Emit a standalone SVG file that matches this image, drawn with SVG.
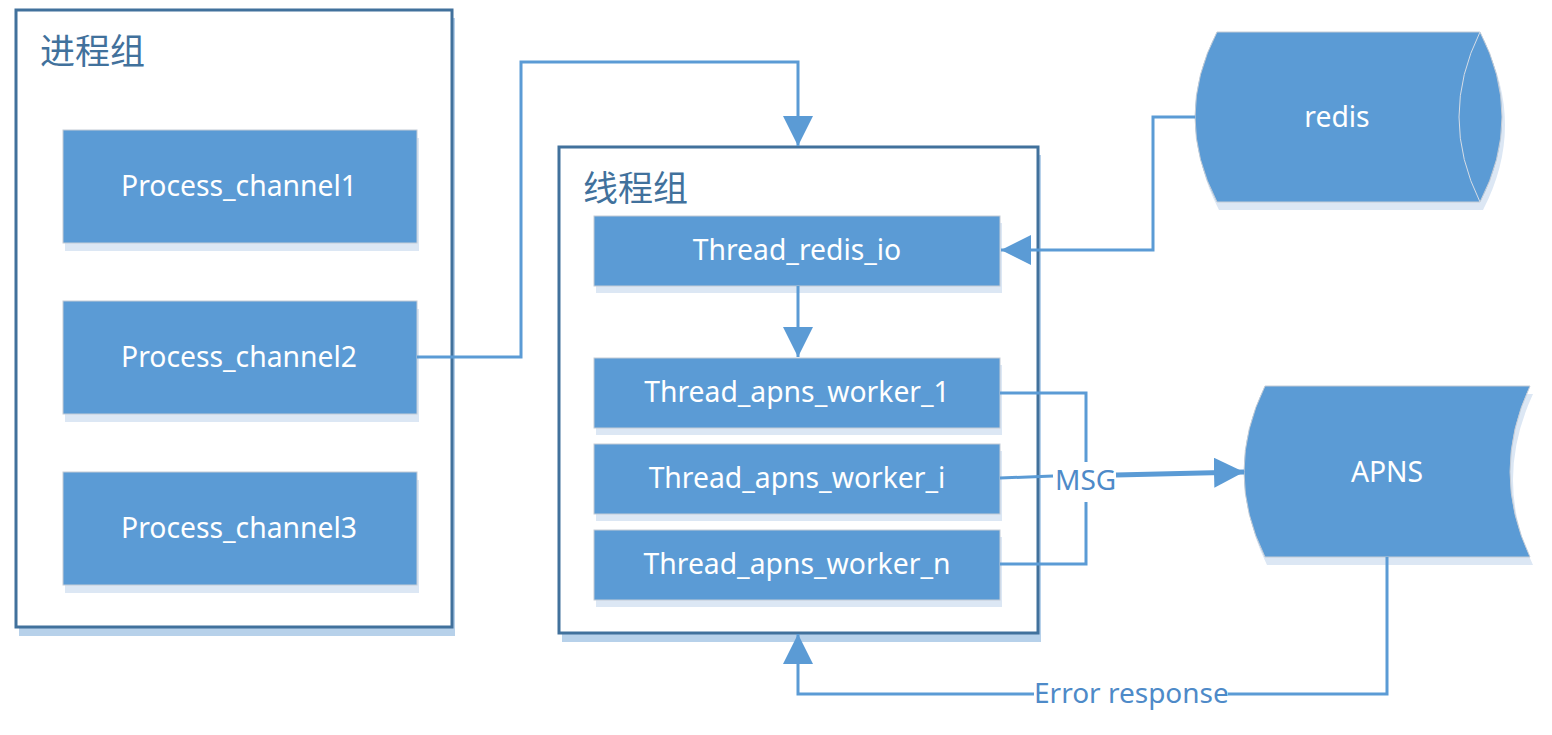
<svg xmlns="http://www.w3.org/2000/svg" width="1552" height="735" viewBox="0 0 1552 735">
<style>
  .frame { fill: #ffffff; stroke: #41719c; stroke-width: 3; }
  .frameShadow { fill: #b7d1ea; }
  .box { fill: #5b9bd5; stroke: #c4ccd6; stroke-width: 1; }
  .boxShadow { fill: #dce7f4; }
  .label { font-family: "Noto Sans", "Open Sans", "Liberation Sans", sans-serif; font-size: 28.3px; fill: #ffffff; text-anchor: middle; }
  .title { font-family: "Noto Sans CJK SC", "Noto Sans", sans-serif; font-size: 35px; fill: #41719c; }
  .conn { fill: none; stroke: #5b9bd5; stroke-width: 3; }
  .thick { stroke-width: 5; }
  .connText { font-family: "Noto Sans", "Open Sans", "Liberation Sans", sans-serif; font-size: 28px; fill: #4e8ac8; }
</style>
<defs>
  <marker id="arrow" markerUnits="userSpaceOnUse" markerWidth="30" markerHeight="30" viewBox="0 0 28 28" refX="28" refY="14" orient="auto">
    <path d="M0,0 L28,14 L0,28 Z" fill="#5b9bd5"/>
  </marker>
</defs>
<rect x="0" y="0" width="1552" height="735" fill="#ffffff"/>

<g id="process-group">
  <rect class="frameShadow" x="19" y="18" width="436" height="618"/>
  <rect class="frame" x="16" y="10" width="436" height="617"/>
  <text class="title" x="40" y="64">进程组</text>
</g>
<g id="process-channel1">
  <rect class="boxShadow" x="65" y="138" width="354" height="113"/>
  <rect class="box" x="63" y="130" width="354" height="113"/>
  <text class="label" x="239" y="196">Process_channel1</text>
</g>
<g id="process-channel2">
  <rect class="boxShadow" x="65" y="309" width="354" height="113"/>
  <rect class="box" x="63" y="301" width="354" height="113"/>
  <text class="label" x="239" y="367">Process_channel2</text>
</g>
<g id="process-channel3">
  <rect class="boxShadow" x="65" y="480" width="354" height="113"/>
  <rect class="box" x="63" y="472" width="354" height="113"/>
  <text class="label" x="239" y="538">Process_channel3</text>
</g>

<g id="thread-group">
  <rect class="frameShadow" x="562" y="155" width="479" height="487"/>
  <rect class="frame" x="559" y="147" width="479" height="486"/>
  <text class="title" x="583" y="201">线程组</text>
</g>
<g id="thread-redis-io">
  <rect class="boxShadow" x="596" y="223" width="406" height="70"/>
  <rect class="box" x="594" y="216" width="406" height="70"/>
  <text class="label" x="797" y="260">Thread_redis_io</text>
</g>
<g id="thread-apns-worker-1">
  <rect class="boxShadow" x="596" y="365" width="406" height="70"/>
  <rect class="box" x="594" y="358" width="406" height="70"/>
  <text class="label" x="797" y="402">Thread_apns_worker_1</text>
</g>
<g id="thread-apns-worker-i">
  <rect class="boxShadow" x="596" y="451" width="406" height="70"/>
  <rect class="box" x="594" y="444" width="406" height="70"/>
  <text class="label" x="797" y="488">Thread_apns_worker_i</text>
</g>
<g id="thread-apns-worker-n">
  <rect class="boxShadow" x="596" y="537" width="406" height="70"/>
  <rect class="box" x="594" y="530" width="406" height="70"/>
  <text class="label" x="797" y="574">Thread_apns_worker_n</text>
</g>

<g id="redis">
  <path class="boxShadow" d="M1219,40 L1483,40 Q1527,125 1483,210 L1219,210 Q1175,125 1219,40 Z"/>
  <path class="box" d="M1217,32 L1480,32 Q1524,117 1480,202 L1217,202 Q1173,117 1217,32 Z"/>
  <path d="M1480,32 Q1438,117 1480,202" fill="none" stroke="#d6dde6" stroke-width="1"/>
  <text class="label" x="1337" y="127">redis</text>
</g>
<g id="apns">
  <path class="boxShadow" d="M1267,394 L1533,394 Q1493,480 1533,565 L1267,565 Q1225,480 1267,394 Z"/>
  <path class="box" d="M1265,386 L1530,386 Q1490,472 1530,557 L1265,557 Q1223,472 1265,386 Z"/>
  <text class="label" x="1387" y="482">APNS</text>
</g>

<g id="connectors">
  <polyline class="conn" points="417,357 521,357 521,62 798,62 798,146" marker-end="url(#arrow)"/>
  <polyline class="conn" points="1195,117 1153,117 1153,250 1001,250" marker-end="url(#arrow)"/>
  <polyline class="conn" points="798,286 798,357" marker-end="url(#arrow)"/>
  <polyline class="conn" points="1000,393 1086,393 1086,462"/>
  <polyline class="conn" points="1000,564 1086,564 1086,502"/>
  <line class="conn" x1="1000" y1="478" x2="1053" y2="476"/>
  <text class="connText" x="1055" y="490">MSG</text>
  <line class="conn thick" x1="1116" y1="475" x2="1244" y2="472" marker-end="url(#arrow)"/>
  <polyline class="conn" points="1387,557 1387,694 1228,694"/>
  <text class="connText" x="1034" y="703">Error response</text>
  <polyline class="conn" points="1034,694 798,694 798,634" marker-end="url(#arrow)"/>
</g>
</svg>
